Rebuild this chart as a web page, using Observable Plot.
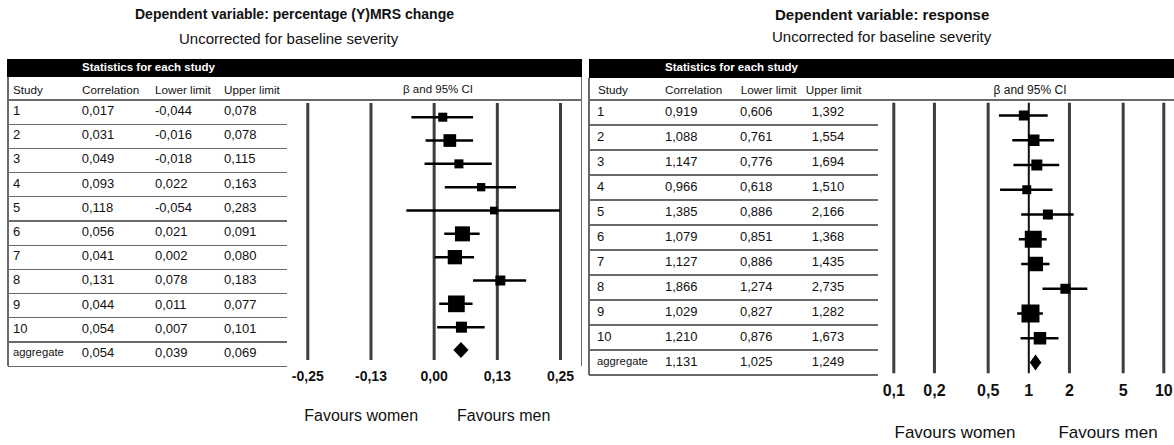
<!DOCTYPE html>
<html>
<head>
<meta charset="utf-8">
<script src="https://cdn.jsdelivr.net/npm/d3@7"></script>
<script src="https://cdn.jsdelivr.net/npm/@observablehq/plot@0.6"></script>
<style>
  html, body { margin: 0; padding: 0; background: #fff; }
  #root { position: relative; width: 1174px; height: 445px; overflow: hidden; background: #fff;
          font-family: "Liberation Sans", Arial, Helvetica, sans-serif; color: #111; }
  .a { position: absolute; white-space: nowrap; }
</style>
</head>
<body>
<div id="root"></div>
<script>
// ---------- data ----------
const studies = ["1", "2", "3", "4", "5", "6", "7", "8", "9", "10", "aggregate"];
const headers = ["Study", "Correlation", "Lower limit", "Upper limit"];

const titleL = "Dependent variable: percentage (Y)MRS change";
const titleR = "Dependent variable: response";
const subtitle = "Uncorrected for baseline severity";
const statsHeader = "Statistics for each study";
const ciHeader = "β and 95% CI";
const favours = ["Favours women", "Favours men"];

const corrL  = [0.017, 0.031, 0.049, 0.093, 0.118, 0.056, 0.041, 0.131, 0.044, 0.054, 0.054];
const lowerL = [-0.044, -0.016, -0.018, 0.022, -0.054, 0.021, 0.002, 0.078, 0.011, 0.007, 0.039];
const upperL = [0.078, 0.078, 0.115, 0.163, 0.283, 0.091, 0.080, 0.183, 0.077, 0.101, 0.069];
const weightsL = [5.9, 11.7, 5.9, 5.0, 4.3, 16.3, 14.8, 7.2, 20.2, 8.8]; // relative weight (%), estimated

const corrR  = [0.919, 1.088, 1.147, 0.966, 1.385, 1.079, 1.127, 1.866, 1.029, 1.210, 1.131];
const lowerR = [0.606, 0.761, 0.776, 0.618, 0.886, 0.851, 0.886, 1.274, 0.827, 0.876, 1.025];
const upperR = [1.392, 1.554, 1.694, 1.510, 2.166, 1.368, 1.435, 2.735, 1.282, 1.673, 1.249];
const weightsR = [6.2, 8.2, 7.5, 5.0, 6.2, 17.9, 13.0, 6.2, 20.1, 9.7]; // relative weight (%), estimated

const ticksL = [-0.25, -0.125, 0, 0.125, 0.25];
const tickLabelsL = ["-0,25", "-0,13", "0,00", "0,13", "0,25"];
const ticksR = [0.1, 0.2, 0.5, 1, 2, 5, 10];
const tickLabelsR = ["0,1", "0,2", "0,5", "1", "2", "5", "10"];

// ---------- helpers ----------
const root = document.getElementById("root");
const fmt = v => v.toFixed(3).replace(".", ",");

function rect(x0, y0, x1, y1, color) {
  const d = document.createElement("div");
  d.className = "a";
  Object.assign(d.style, {left: x0 + "px", top: y0 + "px", width: (x1 - x0) + "px", height: (y1 - y0) + "px", background: color});
  root.appendChild(d);
}
const LINE = "#6a6a6a";
function hline(x0, x1, y, w = 1.3, c = LINE) { rect(x0, y - w / 2, x1, y + w / 2, c); }
function vline(x, y0, y1, w = 1.3, c = LINE) { rect(x - w / 2, y0, x + w / 2, y1, c); }
function txt(s, x, y, {size = 13, weight = "normal", anchor = "start", color = "#111"} = {}) {
  const d = document.createElement("div");
  d.className = "a";
  d.textContent = s;
  Object.assign(d.style, {
    left: x + "px", top: (y - 0.69 * size) + "px",
    fontSize: size + "px", lineHeight: (1.2 * size) + "px", fontWeight: weight, color
  });
  if (anchor === "middle") d.style.transform = "translateX(-50%)";
  root.appendChild(d);
}

function panel(cfg, corr, lower, upper) {
  txt(cfg.title, cfg.titleX, 16, {size: cfg.titleSize, weight: "bold"});
  txt(subtitle, cfg.subX, cfg.subY, {size: 15});
  rect(cfg.barX0, 59, cfg.barX1, cfg.barY1, "#000");
  txt(statsHeader, cfg.statsX, 68.5, {size: 11.5, weight: "bold", color: "#fff"});
  headers.forEach((h, j) => txt(h, cfg.headX[j], 90.7, {size: 11.7}));
  txt(ciHeader, cfg.ciX, 91, {size: cfg.ciSize, anchor: "middle"});
  studies.forEach((s, i) => {
    const yc = cfg.rowY0 + cfg.rowH * i;
    txt(s, cfg.dataX[0], yc, {size: s === "aggregate" ? 11.3 : 13});
    txt(fmt(corr[i]), cfg.dataX[1], yc, {size: 13});
    txt(fmt(lower[i]), cfg.dataX[2], yc, {size: 13});
    txt(fmt(upper[i]), cfg.dataX[3], yc, {size: 13});
  });
  hline(cfg.tabX0, cfg.headLineX1, 100);
  for (let k = 1; k <= studies.length; k++) hline(cfg.tabX0, cfg.tabX1, 100 + cfg.lineH * k);
  vline(cfg.tabX0, cfg.barY1, 100 + cfg.lineH * studies.length);
  if (cfg.rightBorder) vline(cfg.rightBorder, cfg.barY1, 100 + cfg.lineH * studies.length);
  txt(favours[0], cfg.favX[0], cfg.favY, {size: cfg.favSize, anchor: "middle"});
  txt(favours[1], cfg.favX[1], cfg.favY, {size: cfg.favSize, anchor: "middle"});
}

panel({
  title: titleL, titleX: 135, titleSize: 14, subX: 179, subY: 40,
  barX0: 7, barX1: 582, barY1: 77, statsX: 82,
  headX: [13, 82, 155, 224], dataX: [13, 81.7, 155, 224],
  ciX: 438, ciSize: 11.5,
  rowY0: 112, rowH: 24.2, lineH: 24.2,
  tabX0: 8, tabX1: 287, headLineX1: 582, rightBorder: 581.5,
  favX: [361.2, 503.7], favY: 416.7, favSize: 16
}, corrL, lowerL, upperL);

panel({
  title: titleR, titleX: 775, titleSize: 15, subX: 772, subY: 38.5,
  barX0: 589, barX1: 1174, barY1: 78, statsX: 665,
  headX: [598, 665, 740.7, 805.7], dataX: [597, 665, 740, 811.7],
  ciX: 1030, ciSize: 12,
  rowY0: 112.5, rowH: 25, lineH: 25,
  tabX0: 589, tabX1: 878, headLineX1: 1174, rightBorder: null,
  favX: [955, 1108], favY: 435, favSize: 17
}, corrR, lowerR, upperR);

// ---------- forest plots ----------
function forest({corr, lower, upper, weights, ticks, labels, left, width, mL, mR, mT, mB, xType, yRange, rMax, labelDy, tickSize, nullLine}) {
  const n = weights.length;
  const rows = weights.map((w, i) => ({y: i, est: corr[i], lo: lower[i], hi: upper[i], w}));
  const agg = {y: n, est: corr[n], lo: lower[n], hi: upper[n]};
  const rowPx = (yRange[1] - yRange[0]) / n;
  const h = 8 / rowPx;
  const diamond = [
    {y: agg.y - h, x1: agg.est, x2: agg.est},
    {y: agg.y, x1: agg.lo, x2: agg.hi},
    {y: agg.y + h, x1: agg.est, x2: agg.est}
  ];
  const tickData = ticks.map((t, i) => ({t, label: labels[i]}));
  const gridTicks = nullLine == null ? tickData : tickData.filter(d => d.t !== nullLine);
  const marks = [
    Plot.ruleX(gridTicks, {x: "t", stroke: "#3e3e3e", strokeWidth: 3})
  ];
  if (nullLine != null) marks.push(Plot.ruleX([nullLine], {stroke: "#111", strokeWidth: 2}));
  marks.push(
    Plot.text(tickData, {x: "t", text: "label", frameAnchor: "bottom", dy: labelDy, fontSize: tickSize, fontWeight: "bold", fill: "#111"}),
    Plot.ruleY(rows, {y: "y", x1: "lo", x2: "hi", stroke: "#000", strokeWidth: 2.5, clip: true}),
    Plot.dot(rows, {x: "est", y: "y", r: "w", symbol: "square", fill: "#000", stroke: null}),
    Plot.areaX(diamond, {y: "y", x1: "x1", x2: "x2", fill: "#000"})
  );
  const svg = Plot.plot({
    width, height: 445,
    marginLeft: mL, marginRight: mR, marginTop: mT, marginBottom: mB,
    x: {type: xType, domain: [ticks[0], ticks[ticks.length - 1]], axis: null},
    y: {type: "linear", domain: [0, n], range: yRange, axis: null},
    r: {type: "sqrt", domain: [0, d3.max(weights)], range: [0, rMax]},
    style: {fontFamily: '"Liberation Sans", Arial, sans-serif', background: "transparent", overflow: "visible"},
    marks
  });
  svg.style.position = "absolute";
  svg.style.left = left + "px";
  svg.style.top = "0px";
  root.appendChild(svg);
}

forest({
  corr: corrL, lower: lowerL, upper: upperL, weights: weightsL,
  ticks: ticksL, labels: tickLabelsL,
  left: 287, width: 295, mL: 20.3, mR: 22, mT: 103, mB: 85,
  xType: "linear", yRange: [116.7, 350], rMax: 16.7 / Math.sqrt(Math.PI),
  labelDy: 20, tickSize: 14, nullLine: null
});

forest({
  corr: corrR, lower: lowerR, upper: upperR, weights: weightsR,
  ticks: ticksR, labels: tickLabelsR,
  left: 878, width: 296, mL: 15.3, mR: 10.7, mT: 102.7, mB: 71.7,
  xType: "log", yRange: [115, 362.5], rMax: 18 / Math.sqrt(Math.PI),
  labelDy: 21.7, tickSize: 16, nullLine: 1
});
</script>
</body>
</html>
